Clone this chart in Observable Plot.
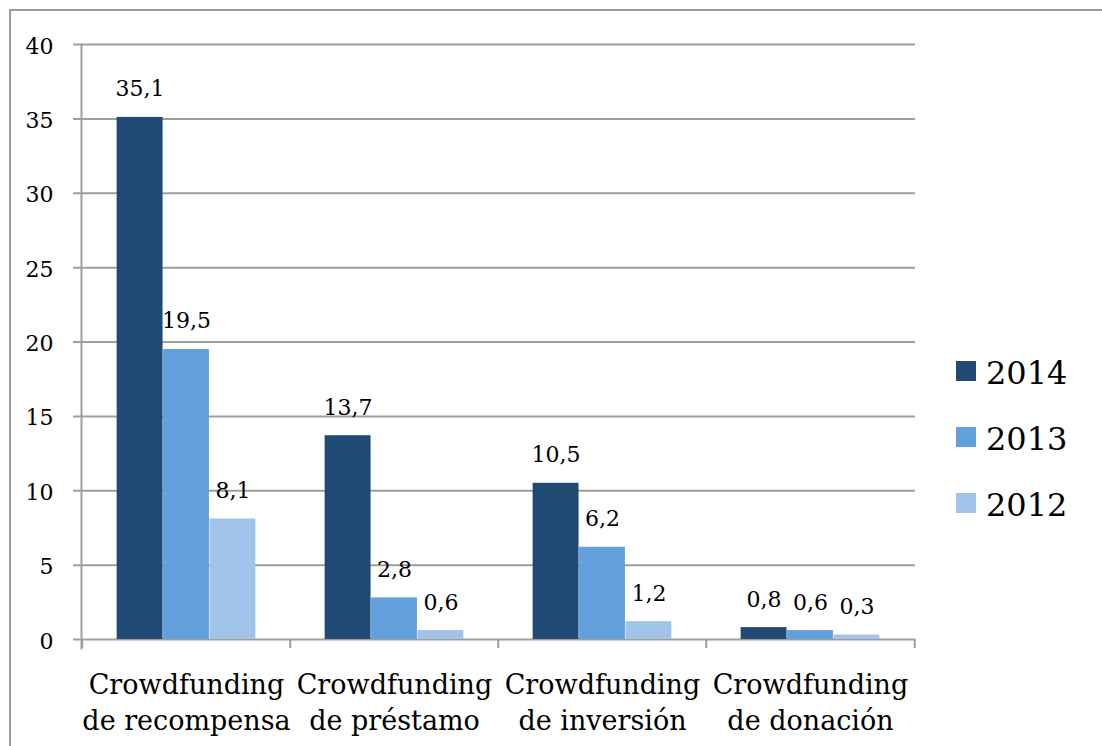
<!DOCTYPE html>
<html><head><meta charset="utf-8">
<script src="https://cdn.jsdelivr.net/npm/d3@7"></script>
<script src="https://cdn.jsdelivr.net/npm/@observablehq/plot@0.6"></script>
<style>
html,body{margin:0;padding:0;background:#fff;}
#wrap{position:relative;width:1102px;height:746px;overflow:hidden;font-family:"DejaVu Serif",serif;background:#fff;}
#border{position:absolute;left:9px;top:9px;width:1200px;height:1000px;border:2px solid #9a9a9a;}
#chart{position:absolute;left:0;top:0;}
#legend{position:absolute;left:956px;top:338px;}
.item{display:flex;align-items:center;height:66px;font-size:32px;color:#000;}
.sw{width:20px;height:20px;margin-right:10px;}
.lbl{padding-top:4px;}
</style></head>
<body>
<div id="wrap"><div id="border"></div><div id="chart"></div><div id="legend"></div></div>
<script>
const categories = ["Crowdfunding de recompensa", "Crowdfunding de préstamo", "Crowdfunding de inversión", "Crowdfunding de donación"];
const years = ["2014", "2013", "2012"];
const v2014 = [35.1, 13.7, 10.5, 0.8];
const v2013 = [19.5, 2.8, 6.2, 0.6];
const v2012 = [8.1, 0.6, 1.2, 0.3];
const yTicks = [0, 5, 10, 15, 20, 25, 30, 35, 40];
const colors = ["#1F4A73", "#63A1DD", "#A2C3EA"];

const seriesValues = [v2014, v2013, v2012];
const table = years.flatMap((yr, s) => categories.map((c, i) => ({cat: c, year: yr, value: seriesValues[s][i]})));

const W = 930, H = 746, mL = 81, mR = 15, mT = 44, mB = 107;
const bw = (W - mL - mR) / categories.length;
const barW = 46.4;
const pad = (bw - 3 * barW) / 2;
const font = '"DejaVu Serif", serif';
const grey = "#9e9e9e";
const fmt = v => v.toFixed(1).replace(".", ",");

const chart = Plot.plot({
  width: W, height: H,
  marginLeft: mL, marginRight: mR, marginTop: mT, marginBottom: mB,
  style: {fontFamily: font, background: "transparent", color: "#000"},
  x: {domain: categories, padding: 0, axis: null},
  y: {domain: [0, 40], axis: null},
  marks: [
    Plot.ruleY(yTicks, {y: d => d, stroke: grey, strokeWidth: 2, insetLeft: -8}),
    Plot.frame({anchor: "left", stroke: grey, strokeWidth: 2, insetBottom: -9}),
    Plot.ruleX(categories, {x: d => d, dx: -bw / 2, insetTop: H - mT - mB, insetBottom: -9, stroke: grey, strokeWidth: 2}),
    Plot.ruleX([categories[categories.length - 1]], {x: d => d, dx: bw / 2, insetTop: H - mT - mB, insetBottom: -9, stroke: grey, strokeWidth: 2}),
    ...years.map((yr, s) => Plot.barY(table.filter(d => d.year === yr), {
      x: "cat", y: "value", fill: colors[s],
      insetLeft: pad + s * barW, insetRight: pad + (2 - s) * barW
    })),
    ...years.map((yr, s) => Plot.text(table.filter(d => d.year === yr), {
      x: "cat", y: "value", text: d => fmt(d.value),
      dx: (s - 1) * barW, dy: -28, fontSize: 22, fill: "#000"
    })),
    Plot.text(categories, {
      x: d => d, text: d => d.replace(" ", "\n"),
      frameAnchor: "bottom", lineAnchor: "top", dy: 30, lineHeight: 1.3,
      fontSize: 27, fill: "#000"
    }),
    Plot.axisY({ticks: yTicks, tickSize: 0, tickPadding: 28, fontSize: 22, dy: 2, fill: "#000", label: null})
  ]
});
document.getElementById("chart").appendChild(chart);

const legend = document.getElementById("legend");
years.forEach((yr, s) => {
  const it = document.createElement("div");
  it.className = "item";
  it.innerHTML = `<div class="sw" style="background:${colors[s]}"></div><div class="lbl">${yr}</div>`;
  legend.appendChild(it);
});
</script>
</body></html>
